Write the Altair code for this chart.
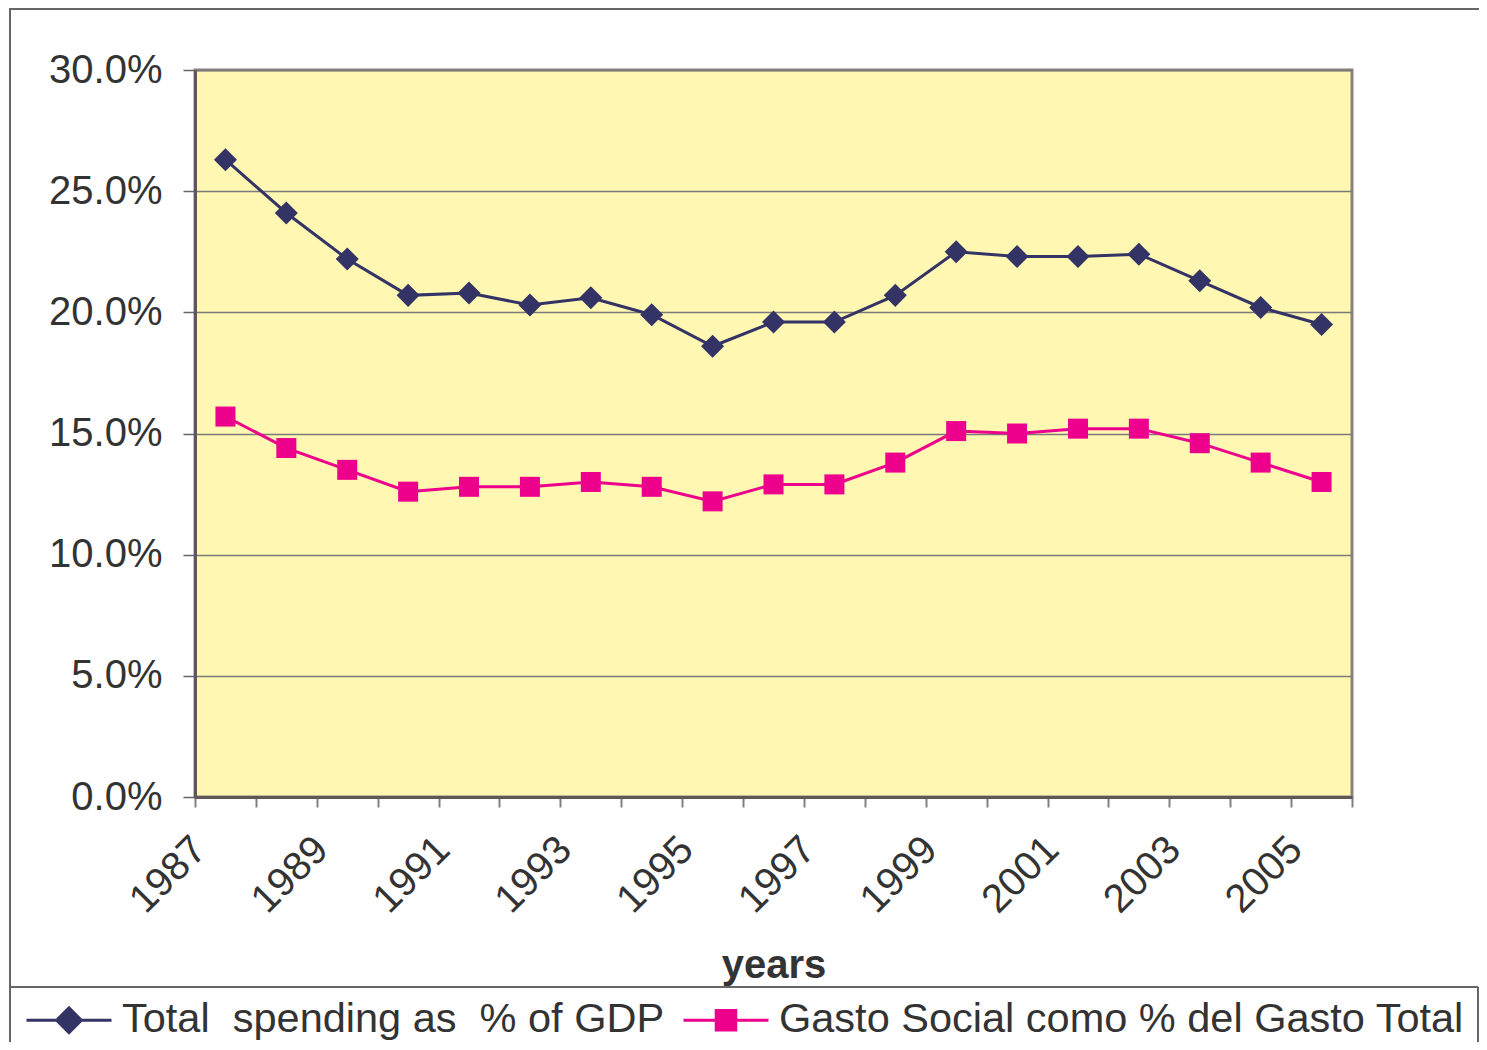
import altair as alt
import pandas as pd

years = list(range(1987, 2006))
total_spending = [26.3, 24.1, 22.2, 20.7, 20.8, 20.3, 20.6, 19.9, 18.6, 19.6, 19.6,
                  20.7, 22.5, 22.3, 22.3, 22.4, 21.3, 20.2, 19.5]
gasto_social = [15.7, 14.4, 13.5, 12.6, 12.8, 12.8, 13.0, 12.8, 12.2, 12.9, 12.9,
                13.8, 15.1, 15.0, 15.2, 15.2, 14.6, 13.8, 13.0]
series_names = ["Total\u00a0 spending as\u00a0 % of GDP", "Gasto Social como % del Gasto Total"]
series_colors = ["#333366", "#EC008C"]
y_ticks = [0, 5, 10, 15, 20, 25, 30]

rows = []
for name, vals in zip(series_names, [total_spending, gasto_social]):
    for yr, v in zip(years, vals):
        rows.append({"year": yr, "series": name, "value": v})
df = pd.DataFrame(rows)

FONT = "Liberation Sans"
TXT = "#333333"

x_enc = alt.X(
    "year:O",
    scale=alt.Scale(type="band", paddingInner=0, paddingOuter=0),
    axis=alt.Axis(
        title="years", labelAngle=315, labelAlign="right", labelBaseline="middle",
        labelExpr="datum.value % 2 == 1 ? datum.label : ''", labelOverlap=False,
        tickBand="extent", labelFontSize=40, labelFont=FONT, labelColor=TXT,
        labelPadding=36, labelOffset=-26, tickSize=10, tickColor="#808080", tickWidth=2,
        domainColor="#5f5656", domainWidth=3, grid=False,
        titleFontSize=40, titleFont=FONT, titleFontWeight="bold", titleColor=TXT,
        titleY=180, titleBaseline="alphabetic",
    ),
)
y_enc = alt.Y(
    "value:Q",
    scale=alt.Scale(domain=[0, 30], nice=False, zero=True),
    axis=alt.Axis(
        title=None, values=y_ticks, labelExpr="format(datum.value, '.1f') + '%'",
        labelFontSize=40, labelFont=FONT, labelColor=TXT, labelPadding=21,
        tickSize=12, tickColor="#666666", tickWidth=1.5,
        grid=True, gridColor="#7a7a7a", gridWidth=1.5,
        domainColor="#5f5656", domainWidth=3,
    ),
)

color_scale = alt.Scale(domain=series_names, range=series_colors)

lines = alt.Chart(df).mark_line(strokeWidth=3).encode(
    x=x_enc, y=y_enc,
    color=alt.Color("series:N", scale=color_scale, legend=None),
)

points = alt.Chart(df).mark_point(filled=True, opacity=1).encode(
    x=x_enc, y=y_enc,
    color=alt.Color("series:N", scale=color_scale, legend=None),
    shape=alt.Shape("series:N", scale=alt.Scale(domain=series_names, range=["diamond", "square"]), legend=None),
    size=alt.Size("series:N", scale=alt.Scale(domain=series_names, range=[530, 400]), legend=None),
)

diamond_path = "M-1,0L1,0M-0.29,0L0,-0.29L0.29,0L0,0.29Z"
square_path = "M-1,0L1,0M-0.23,-0.23L0.23,-0.23L0.23,0.23L-0.23,0.23Z"

leg = alt.Legend(
    title=None, orient="none", legendX=-170, legendY=906, direction="horizontal",
    symbolSize=7225, symbolStrokeWidth=3, symbolOpacity=1,
    labelFontSize=41.5, labelFont=FONT, labelColor=TXT, labelLimit=0,
    labelOffset=9, columnPadding=12, padding=0, offset=0,
)

legend_layer = alt.Chart(df).mark_point(filled=True, opacity=0).encode(
    x=x_enc, y=y_enc,
    fill=alt.Fill("series:N", scale=alt.Scale(domain=series_names, range=series_colors), legend=leg),
    stroke=alt.Stroke("series:N", scale=alt.Scale(domain=series_names, range=series_colors), legend=leg),
    shape=alt.Shape("series:N", scale=alt.Scale(domain=series_names, range=[diamond_path, square_path]), legend=leg),
)

deco = alt.Data(values=[{"d": 0}])
frame_color = "#666666"
frame_top = alt.Chart(deco).mark_rule(color=frame_color, strokeWidth=2).encode(
    x=alt.value(-185), x2=alt.value(1290), y=alt.value(-61))
frame_left = alt.Chart(deco).mark_rule(color=frame_color, strokeWidth=2).encode(
    x=alt.value(-185), y=alt.value(-62), y2=alt.value(980))
legend_top = alt.Chart(deco).mark_rule(color=frame_color, strokeWidth=2).encode(
    x=alt.value(-185), x2=alt.value(1283), y=alt.value(917))
legend_right = alt.Chart(deco).mark_rule(color=frame_color, strokeWidth=2).encode(
    x=alt.value(1283), y=alt.value(917), y2=alt.value(980))

chart = alt.layer(
    lines, points, legend_layer, frame_top, frame_left, legend_top, legend_right
).resolve_scale(
    shape="independent", fill="independent", stroke="independent"
).properties(
    width=1157, height=727,
    autosize=alt.AutoSizeParams(type="none"),
    padding={"left": 187, "top": 62, "right": 127, "bottom": 245},
    background="white",
).configure(
    font=FONT
).configure_view(
    fill="#FFF7B2", stroke="#8c817d", strokeWidth=3
)

chart.save("out.html", embed_options={"renderer": "svg", "actions": False})
